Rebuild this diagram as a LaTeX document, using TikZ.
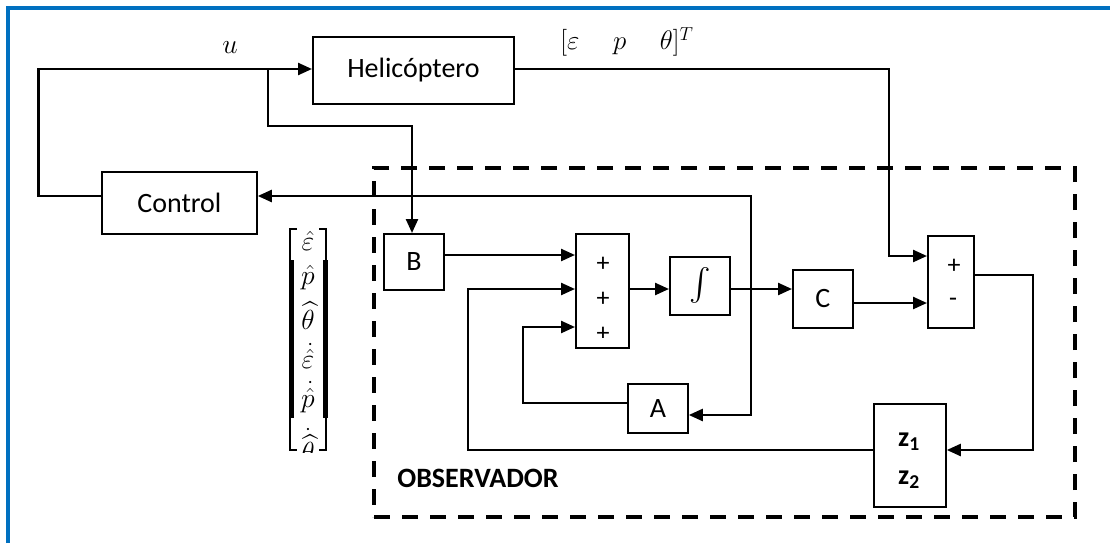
\RequirePackage{fix-cm}
\documentclass[tikz,border=0pt]{standalone}
\usepackage{amsmath}
\usepackage{fontspec}
\setmainfont{Carlito}
\usetikzlibrary{arrows.meta}
\definecolor{frameblue}{RGB}{0,112,192}
\tikzset{
  blk/.style={draw, line width=1.8pt, inner sep=0pt, anchor=north west, font=\fontsize{28}{30}\selectfont},
  lbl/.style={inner sep=0pt, font=\fontsize{28}{30}\selectfont},
  mlbl/.style={inner sep=0pt, font=\fontsize{24}{26}\selectfont},
  conn/.style={line width=2.4pt},
  arr/.style={conn, -{Triangle[length=14pt,width=12pt]}},
  obsbox/.style={draw, line width=4pt, dash pattern=on 16pt off 12pt, inner sep=0pt, anchor=north west},
}
\newcommand{\mbig}[1]{\scalebox{1.15}{$#1$}}
\begin{document}
\begin{tikzpicture}[x=1pt,y=-1pt]
\useasboundingbox (0,0) rectangle (1110,543);
% outer frame (left and top visible)
\draw[frameblue, line width=4pt] (7.5,543) -- (7.5,8) -- (1110,8);

% observer dashed region
\node[obsbox, minimum width=701pt, minimum height=349pt] (obs) at (372,166) {};
\node[lbl, font=\fontsize{28}{30}\selectfont\bfseries] (obst) at (478,478) {OBSERVADOR};

% blocks
\node[blk, minimum width=201pt, minimum height=67pt] (heli) at (312,36) {Helicóptero};
\node[blk, minimum width=155pt, minimum height=62pt] (ctrl) at (101,171) {Control};
\node[blk, minimum width=60pt, minimum height=56pt] (B) at (383,233) {B};
\node[blk, minimum width=53pt, minimum height=114pt] (sum) at (575,233) {};
\node[blk, minimum width=60pt, minimum height=58pt, font=\fontsize{24}{26}\selectfont] (int) at (669,256) {\scalebox{1.3}{$\textstyle\int$}};
\node[blk, minimum width=60pt, minimum height=58pt] (C) at (792,269) {C};
\node[blk, minimum width=46pt, minimum height=92pt] (sum2) at (927,235) {};
\node[blk, minimum width=60pt, minimum height=49pt] (A) at (627,383) {A};
\node[blk, minimum width=72pt, minimum height=103pt] (Z) at (873,403) {};

% signs
\node[lbl, font=\fontsize{26}{28}\selectfont] (s1) at (603,264) {+};
\node[lbl, font=\fontsize{26}{28}\selectfont] (s2) at (603,299) {+};
\begin{scope}
  \clip (575,233) rectangle (628,337);
  \node[lbl, font=\fontsize{26}{28}\selectfont] (s3) at (603,334) {+};
\end{scope}
\node[lbl, font=\fontsize{26}{28}\selectfont] (t1) at (954,266) {+};
\node[lbl, font=\fontsize{26}{28}\selectfont] (t2) at (953,302) {-};
\node[lbl, font=\fontsize{28}{30}\selectfont\bfseries] (z1) at (909,442) {z\textsubscript{1}};
\node[lbl, font=\fontsize{28}{30}\selectfont\bfseries] (z2) at (909,480) {z\textsubscript{2}};

% labels
\node[lbl, font=\fontsize{24}{26}\selectfont] (ulab) at (230,48) {\scalebox{1.15}{$u$}};
\node[lbl, font=\fontsize{24}{26}\selectfont] (ylab) at (627,42) {\scalebox{1.12}{$[\varepsilon\hspace{30pt}p\hspace{30pt}\theta]^T$}};

% state vector
\begin{scope}
  \clip (280,220) rectangle (340,452);
  \node[mlbl] (x1) at (308,241) {\mbig{\hat{\varepsilon}}};
  \node[mlbl] (x2) at (308,278) {\mbig{\hat{p}}};
  \node[mlbl] (x3) at (308,316) {\mbig{\widehat{\theta}}};
  \node[mlbl] (x4) at (308,356) {\mbig{\dot{\hat{\varepsilon}}}};
  \node[mlbl] (x5) at (308,397) {\mbig{\dot{\hat{p}}}};
  \node[mlbl] (x6) at (308,445) {\mbig{\dot{\widehat{\theta}}}};
\end{scope}
\draw[line width=1.6pt] (297,229) -- (290,229) -- (290,450) -- (297,450);
\draw[line width=5pt] (291,260) -- (291,418);
\draw[line width=1.6pt] (319,229) -- (326,229) -- (326,450) -- (319,450);
\draw[line width=5pt] (325,260) -- (325,418);

% connectors
\coordinate (lc) at (38.5,196);
\coordinate (lt) at (38.5,69);
\coordinate (br) at (268,69);
\coordinate (b1) at (268,126);
\coordinate (b2) at (412,126);
\draw[arr] (ctrl.west |- lc) -- (lc) -- (lt) -- (heli.west |- lt);
\draw[arr] (br) -- (b1) -- (b2) -- (B.north -| b2);

\coordinate (h1) at (889,69);
\coordinate (h2) at (889,256);
\draw[arr] (heli.east |- h1) -- (h1) -- (h2) -- (sum2.west |- h2);

\draw[arr] (B.east |- 0,255) -- (sum.west |- 0,255);
\draw[arr] (sum.east |- 0,289) -- (int.west |- 0,289);
\coordinate (j) at (751,289);
\draw[arr] (int.east |- j) -- (C.west |- j);
\coordinate (f1) at (751,196);
\coordinate (f2) at (751,415);
\draw[arr] (j) -- (f1) -- (ctrl.east |- f1);
\draw[arr] (j) -- (f2) -- (A.east |- f2);
\draw[arr] (C.east |- 0,303) -- (sum2.west |- 0,303);

\coordinate (o1) at (1033,275);
\coordinate (o2) at (1033,450);
\draw[arr] (sum2.east |- o1) -- (o1) -- (o2) -- (Z.east |- o2);

\coordinate (z1c) at (468,450);
\coordinate (z2c) at (468,289);
\draw[arr] (Z.west |- z1c) -- (z1c) -- (z2c) -- (sum.west |- z2c);

\coordinate (a1) at (523,403);
\coordinate (a2) at (523,327);
\draw[arr] (A.west |- a1) -- (a1) -- (a2) -- (sum.west |- a2);
\end{tikzpicture}
\end{document}
